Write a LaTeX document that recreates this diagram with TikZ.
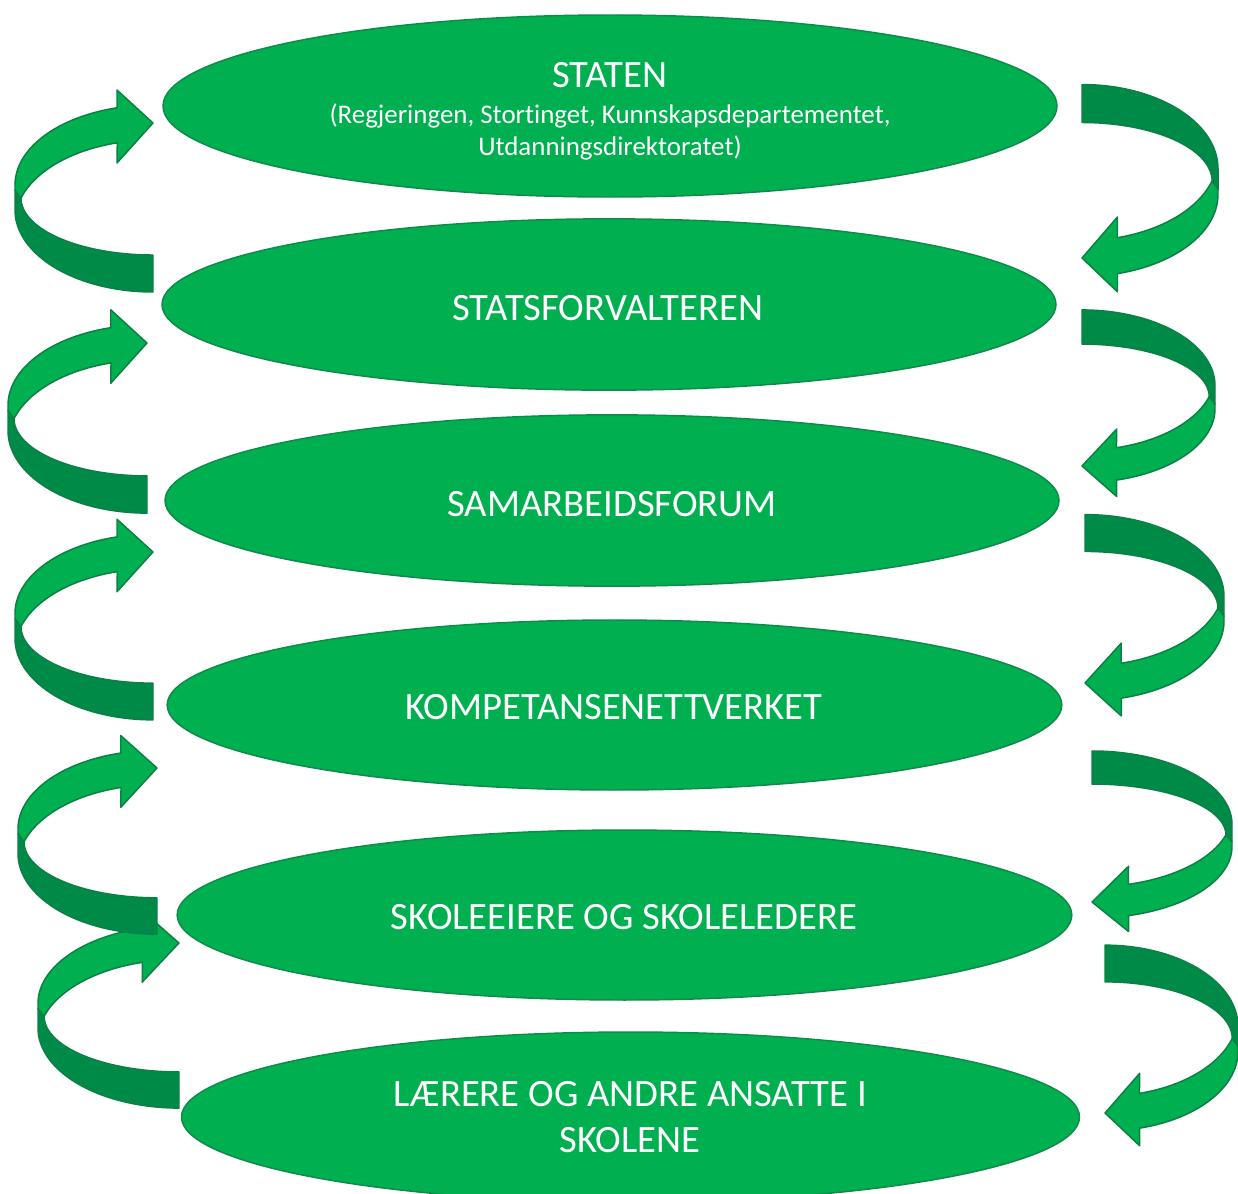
\documentclass[tikz,border=0pt]{standalone}
\usepackage{fontspec}
\setmainfont{Carlito}[Ligatures=NoCommon]
\usetikzlibrary{shapes.geometric}
\definecolor{ellfill}{HTML}{00B050}
\definecolor{ellline}{HTML}{0E8A4B}
\definecolor{armlight}{HTML}{00B050}
\definecolor{armdark}{HTML}{008A47}
\definecolor{armline}{HTML}{0B8045}
\tikzset{
  ell/.style={ellipse, fill=ellfill, draw=ellline, line width=1.1pt, inner sep=0pt},
  lbl/.style={text=white, align=center, inner sep=0pt, font=\fontsize{29pt}{34.5pt}\selectfont},
  armpart/.style={draw=armline, line width=1.1pt, line join=round},
  pics/curvarrow/.style={code={
    \path[armpart, fill=armdark] (-138,67) -- (-138,87)
      -- plot[domain=180:90, samples=40] ({138*cos(\x)},{87+82*sin(\x)})
      -- (0,132)
      -- plot[domain=90:180, samples=40] ({132*cos(\x)},{75+57*sin(\x)})
      -- cycle;
    \path[armpart, fill=armlight] (0,0) -- (-36,-33) -- (-36,-15)
      -- plot[domain=255:180, samples=40] ({138*cos(\x)},{62+80*sin(\x)})
      -- (-138,67) -- (-132,75)
      -- plot[domain=197:255, samples=40] ({138*cos(\x)},{99+82*sin(\x)})
      -- (-36,40) -- cycle;
  }}
}
\begin{document}
\begin{tikzpicture}[x=0.75pt, y=-0.75pt]
\useasboundingbox (0,0) rectangle (1238,1193);
\clip (0,0) rectangle (1238,1193);

% left arrows (bottom first)
\pic[xscale=141/138, yscale=147/150.5] (la5) at (179,943) {curvarrow};
\pic[xscale=139/138, yscale=148/150.5] (la4) at (157,768) {curvarrow};
\pic[xscale=138/138, yscale=149.5/150.5] (la3) at (153,552) {curvarrow};
\pic[xscale=139/138, yscale=151.5/150.5] (la2) at (147,343) {curvarrow};
\pic (la1) at (153,123) {curvarrow};

% right arrows (bottom first)
\pic[xscale=-133/138, yscale=-149.5/150.5] (ra5) at (1105,1113) {curvarrow};
\pic[xscale=-140/138, yscale=-134.5/150.5] (ra4) at (1092,902) {curvarrow};
\pic[xscale=-139/138, yscale=-150/150.5] (ra3) at (1085,683) {curvarrow};
\pic[xscale=-133/138, yscale=-139/150.5] (ra2) at (1082,466) {curvarrow};
\pic[xscale=-136/138, yscale=-154.5/150.5] (ra1) at (1082,258) {curvarrow};

% ellipses
\node[ell, minimum width=670.5pt, minimum height=136.5pt] (e1) at (610,106) {};
\node[ell, minimum width=670.5pt, minimum height=128.5pt] (e2) at (609,304.5) {};
\node[ell, minimum width=670.5pt, minimum height=128.5pt] (e3) at (612,500.5) {};
\node[ell, minimum width=671pt, minimum height=127.5pt] (e4) at (614.5,705) {};
\node[ell, minimum width=671pt, minimum height=127.5pt] (e5) at (624.5,915) {};
\node[ell, minimum width=673.5pt, minimum height=127.5pt] (e6) at (630.5,1117) {};

% labels
\node[lbl, font=\fontsize{20.2pt}{24pt}\selectfont] (t1) at (610,111.5)
  {{\fontsize{29pt}{34.5pt}\selectfont STATEN}\\[3pt](Regjeringen, Stortinget, Kunnskapsdepartementet,\\Utdanningsdirektoratet)};
\node[lbl] (t2) at (608,308) {STATSFORVALTEREN};
\node[lbl] (t3) at (612,504) {SAMARBEIDSFORUM};
\node[lbl] (t4) at (614,707) {KOMPETANSENETTVERKET};
\node[lbl] (t5) at (624,917) {SKOLEEIERE OG SKOLELEDERE};
\node[lbl] (t6) at (630,1117) {LÆRERE OG ANDRE ANSATTE I\\SKOLENE};
\end{tikzpicture}
\end{document}
